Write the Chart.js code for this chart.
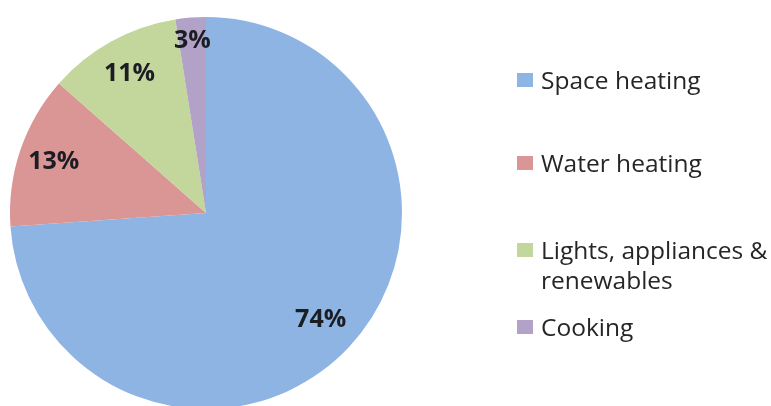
<!DOCTYPE html>
<html lang="en">
<head>
  <meta charset="UTF-8" />
  <title>Household energy use by end use</title>
  <script src="https://cdn.jsdelivr.net/npm/chart.js"></script>
  <style>
    html, body { margin: 0; padding: 0; background: #fff; overflow: hidden; }
    #wrap { position: relative; width: 771px; height: 406px; }
    #chartBox { position: absolute; left: 0; top: 0; width: 771px; height: 406px; }
    #legend {
      position: absolute; left: 517px; top: 0; width: 254px;
      font-family: "Open Sans", sans-serif; font-size: 24.5px; color: #262626;
    }
    .item { position: absolute; left: 0; display: flex; align-items: flex-start; white-space: pre; line-height: 30px; }
    .box { width: 16px; height: 14px; margin-top: 8px; margin-right: 8px; flex: none; }
  </style>
</head>
<body>
  <div id="wrap">
    <div id="chartBox"><canvas id="chart"></canvas></div>
    <div id="legend"></div>
  </div>

  <script>
    const categories = ['Space heating', 'Water heating', 'Lights, appliances &\nrenewables', 'Cooking'];
    const shares = [73.9, 12.6, 11.0, 2.5];   // % of total
    const colours = ['#8eb4e3', '#d99694', '#c3d69b', '#b3a2c7'];
    const legendTops = [65, 148, 235, 312];    // px, top of each legend row

    // percent labels drawn inside the slices
    const pctLabels = {
      id: 'pctLabels',
      afterDatasetsDraw(chart, args, opts) {
        const ctx = chart.ctx;
        const meta = chart.getDatasetMeta(0);
        ctx.save();
        ctx.font = 'bold 25px "Open Sans", sans-serif';
        ctx.fillStyle = '#1c1c24';
        ctx.textAlign = 'center';
        ctx.textBaseline = 'middle';
        meta.data.forEach((arc, i) => {
          const p = arc.getProps(['x', 'y', 'startAngle', 'endAngle', 'outerRadius'], true);
          const mid = (p.startAngle + p.endAngle) / 2;
          const r = p.outerRadius * opts.dist[i];
          ctx.fillText(Math.round(shares[i]) + '%', p.x + Math.cos(mid) * r, p.y + Math.sin(mid) * r);
        });
        ctx.restore();
      }
    };

    const chart = new Chart(document.getElementById('chart'), {
      type: 'pie',
      data: {
        labels: categories,
        datasets: [{ data: shares, backgroundColor: colours, borderWidth: 0 }]
      },
      options: {
        responsive: true,
        maintainAspectRatio: false,
        animation: false,
        radius: 196,
        layout: { padding: { left: 9, right: 368, top: 20, bottom: 0 } },
        plugins: {
          legend: { display: false },
          tooltip: { enabled: false },
          pctLabels: { dist: [0.8, 0.82, 0.81, 0.88] }
        }
      },
      plugins: [pctLabels]
    });

    // html legend, so the long label can wrap onto two lines
    const legend = document.getElementById('legend');
    categories.forEach((name, i) => {
      const row = document.createElement('div');
      row.className = 'item';
      row.style.top = legendTops[i] + 'px';
      row.innerHTML = '<span class="box" style="background:' + colours[i] + '"></span><span></span>';
      row.lastChild.textContent = name;
      legend.appendChild(row);
    });
  </script>
</body>
</html>
